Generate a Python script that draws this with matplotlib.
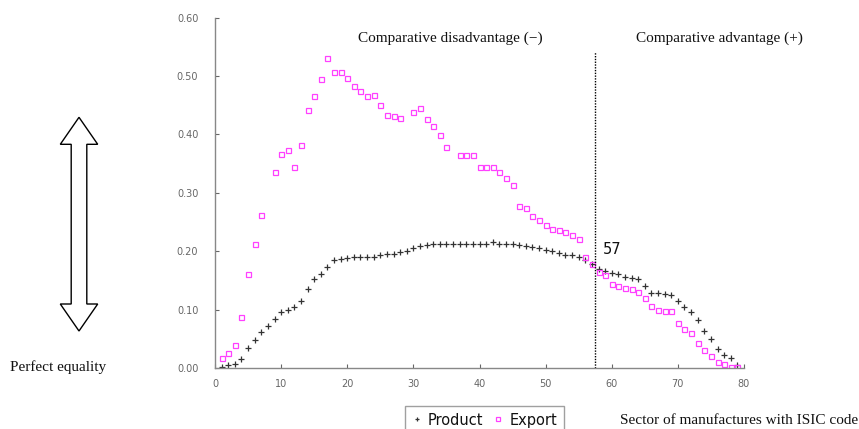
import matplotlib
matplotlib.use('Agg')
import matplotlib.pyplot as plt
from matplotlib.patches import Polygon
import numpy as np

# ISIC sector index
product_x = list(range(1, 80))
product_y = [0.002, 0.005, 0.007, 0.016, 0.035, 0.048, 0.062, 0.072, 0.084, 0.097,
             0.100, 0.104, 0.115, 0.135, 0.152, 0.161, 0.173, 0.185, 0.187, 0.189,
             0.190, 0.190, 0.190, 0.191, 0.193, 0.195, 0.196, 0.199, 0.201, 0.205,
             0.209, 0.211, 0.213, 0.213, 0.213, 0.213, 0.213, 0.213, 0.213, 0.213,
             0.213, 0.216, 0.213, 0.213, 0.212, 0.211, 0.210, 0.208, 0.206, 0.203,
             0.201, 0.197, 0.194, 0.193, 0.190, 0.186, 0.179, 0.170, 0.167, 0.163,
             0.161, 0.157, 0.154, 0.152, 0.141, 0.129, 0.128, 0.127, 0.126, 0.115,
             0.105, 0.097, 0.083, 0.063, 0.050, 0.033, 0.023, 0.017, 0.005]

export_x = [1, 2, 3, 4, 5, 6, 7, 9, 10, 11, 12, 13, 14, 15, 16, 17, 18, 19, 20,
            21, 22, 23, 24, 25, 26, 27, 28, 30, 31, 32, 33, 34, 35, 37, 38, 39, 40,
            41, 42, 43, 44, 45, 46, 47, 48, 49, 50, 51, 52, 53, 54, 55, 56, 57, 58,
            59, 60, 61, 62, 63, 64, 65, 66, 67, 68, 69, 70, 71, 72, 73, 74, 75, 76,
            77, 78, 79]
export_y = [0.017, 0.027, 0.039, 0.087, 0.161, 0.213, 0.263, 0.336, 0.366, 0.373,
            0.345, 0.382, 0.441, 0.466, 0.495, 0.530, 0.507, 0.507, 0.497, 0.483,
            0.474, 0.465, 0.467, 0.450, 0.433, 0.431, 0.428, 0.438, 0.445, 0.426,
            0.415, 0.399, 0.378, 0.364, 0.364, 0.364, 0.345, 0.345, 0.345, 0.336,
            0.325, 0.313, 0.277, 0.274, 0.261, 0.254, 0.245, 0.239, 0.237, 0.233,
            0.228, 0.221, 0.191, 0.178, 0.164, 0.159, 0.144, 0.140, 0.137, 0.135,
            0.131, 0.120, 0.107, 0.100, 0.098, 0.098, 0.077, 0.068, 0.061, 0.044,
            0.031, 0.021, 0.011, 0.007, 0.003, 0.002]

split_x = 57.4
split_label = '57'
x_ticks = [0, 10, 20, 30, 40, 50, 60, 70, 80]
y_ticks = [0.0, 0.1, 0.2, 0.3, 0.4, 0.5, 0.6]
y_ticklabels = ['0.00', '0.10', '0.20', '0.30', '0.40', '0.50', '0.60']

W, H = 859, 429
fig = plt.figure(figsize=(W / 100, H / 100), dpi=100)
ax = fig.add_axes([215 / W, 1 - 368.3 / H, 529 / W, 350.8 / H])

ax.plot(product_x, product_y, linestyle='none', marker='+', markersize=4.5,
        markeredgewidth=0.9, color='#333333', label='Product')
ax.plot(export_x, export_y, linestyle='none', marker='s', markersize=3.6,
        markerfacecolor='none', markeredgewidth=0.9, markeredgecolor='#ff40ff',
        label='Export')

ax.plot([split_x, split_x], [0, 0.541], color='black', linestyle=(0, (1, 1)),
        linewidth=1.0)
ax.text(split_x + 1.2, 0.19, split_label, fontsize=10.5, color='#111111',
        ha='left', va='bottom')

ax.set_xlim(0, 80)
ax.set_ylim(0, 0.6)
ax.set_xticks(x_ticks)
ax.set_yticks(y_ticks)
ax.set_yticklabels(y_ticklabels)
for s in ['top', 'right']:
    ax.spines[s].set_visible(False)
for s in ['left', 'bottom']:
    ax.spines[s].set_color('#888888')
    ax.spines[s].set_linewidth(1.0)
ax.tick_params(axis='both', direction='in', length=3, width=0.8, color='#666666',
               labelsize=7, labelcolor='#666666')
ax.tick_params(axis='y', pad=12)
ax.tick_params(axis='x', pad=8)

serif = 'Liberation Serif'
fig.text(450 / W, 1 - 38 / H, 'Comparative disadvantage (\u2212)', family=serif,
         fontsize=11, ha='center', va='center', color='#111111')
fig.text(719 / W, 1 - 38 / H, 'Comparative advantage (+)', family=serif,
         fontsize=11, ha='center', va='center', color='#111111')
fig.text(10 / W, 1 - 367 / H, 'Perfect equality', family=serif,
         fontsize=11, ha='left', va='center', color='#111111')
fig.text(620 / W, 1 - 420 / H, 'Sector of manufactures with ISIC code', family=serif,
         fontsize=11, ha='left', va='center', color='#111111')

# double-headed outline arrow on the left
cx, top, bot = 79, 117.3, 331
hw, sw, hl = 18.7, 7.8, 27
pts = [(cx, top), (cx + hw, top + hl), (cx + sw, top + hl), (cx + sw, bot - hl),
       (cx + hw, bot - hl), (cx, bot), (cx - hw, bot - hl), (cx - sw, bot - hl),
       (cx - sw, top + hl), (cx - hw, top + hl)]
pts = [(px / W, 1 - py / H) for px, py in pts]
fig.patches.append(Polygon(pts, closed=True, facecolor='white', edgecolor='black',
                           linewidth=1.0, transform=fig.transFigure, figure=fig))

leg = fig.legend(loc='upper left', bbox_to_anchor=(405 / W, 1 - 406 / H), ncol=2,
                 frameon=True, fancybox=False, edgecolor='#888888',
                 prop={'size': 10.5}, handlelength=0.7,
                 handletextpad=0.4, columnspacing=0.7, borderaxespad=0,
                 borderpad=0.45, markerscale=0.7)
leg.get_frame().set_linewidth(1.0)
for t in leg.get_texts():
    t.set_color('#111111')

fig.savefig('out.png', dpi=100)
